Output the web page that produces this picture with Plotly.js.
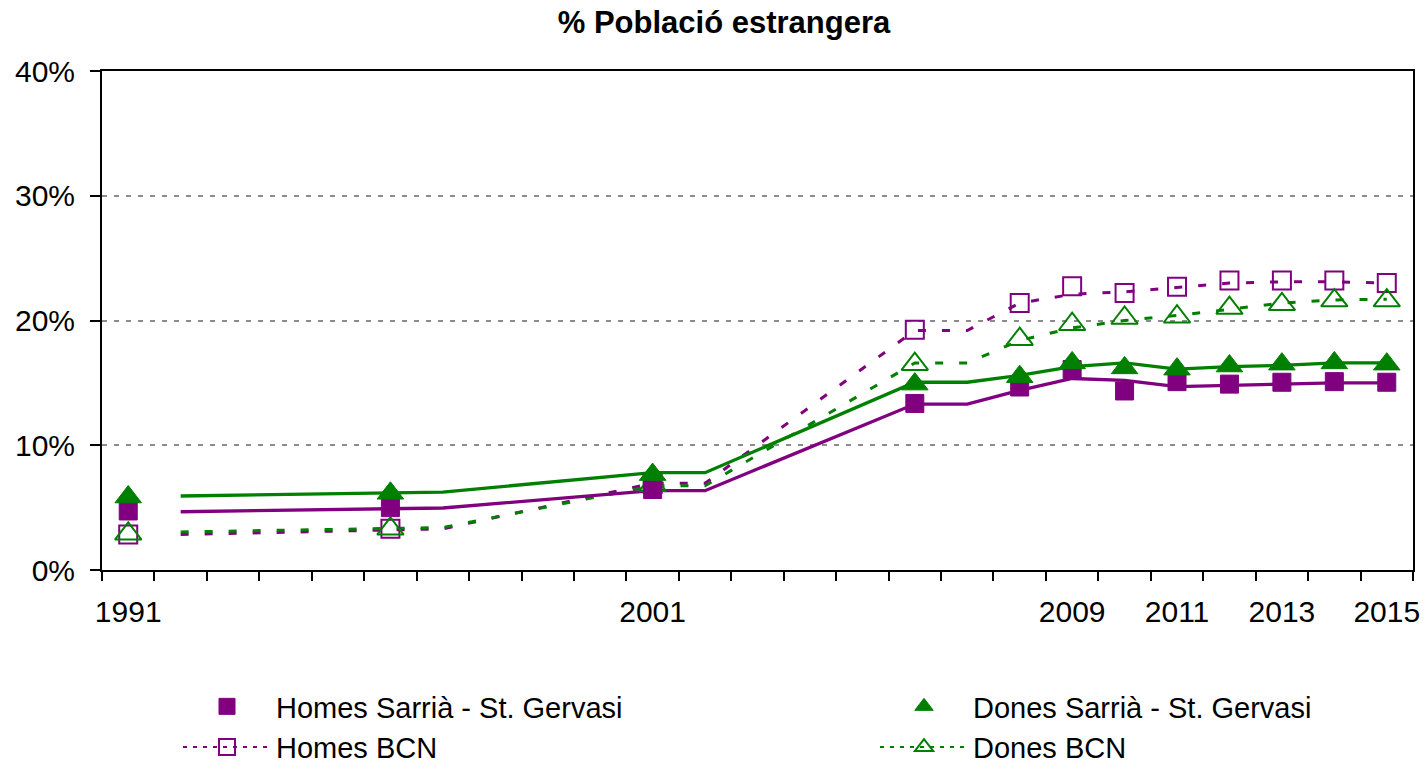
<!DOCTYPE html>
<html>
<head>
<meta charset="utf-8">
<script src="https://cdn.plot.ly/plotly-3.0.1.min.js"></script>
<style>html,body{margin:0;padding:0;background:#fff;}#chart{width:1428px;height:767px;}</style>
</head>
<body>
<div id="chart"></div>
<script>
// ---- data (values in %) ----
const markerYears = [1991, 1996, 2001, 2006, 2008, 2009, 2010, 2011, 2012, 2013, 2014, 2015];
const homesSarria = [4.73, 5.0, 6.45, 13.35, 14.67, 16.07, 14.35, 15.1, 14.9, 15.05, 15.1, 15.05];
const donesSarria = [5.85, 6.15, 7.65, 14.9, 15.5, 16.6, 16.2, 16.1, 16.35, 16.5, 16.6, 16.5];
const homesBCN = [2.85, 3.3, 6.9, 19.25, 21.4, 22.75, 22.2, 22.7, 23.2, 23.2, 23.2, 23.0];
const donesBCN = [2.9, 3.3, 6.8, 16.5, 18.5, 19.7, 20.2, 20.3, 21.0, 21.3, 21.6, 21.6];

const lineYears = [1992, 1997, 2001, 2002, 2006, 2007, 2008, 2009, 2010, 2011, 2012, 2013, 2014, 2015];
const homesSarriaLine = [4.67, 4.97, 6.36, 6.36, 13.3, 13.3, 14.4, 15.35, 15.2, 14.7, 14.8, 14.9, 15.0, 15.0];
const donesSarriaLine = [5.93, 6.25, 7.8, 7.8, 15.05, 15.05, 15.6, 16.3, 16.6, 16.1, 16.3, 16.4, 16.6, 16.6];
const homesBCNLine = [2.85, 3.3, 6.95, 6.95, 19.2, 19.2, 21.4, 22.1, 22.3, 22.65, 23.0, 23.1, 23.1, 23.0];
const donesBCNLine = [3.05, 3.4, 6.75, 6.75, 16.6, 16.6, 18.4, 19.4, 20.0, 20.4, 20.9, 21.4, 21.65, 21.7];

const tickYears = [1991, 2001, 2009, 2011, 2013, 2015];
const yTickVals = [0, 10, 20, 30, 40];
const yTickText = ['0%', '10%', '20%', '30%', '40%'];
const firstYear = 1991, lastYear = 2015;

const names = ['Homes Sarrià - St. Gervasi', 'Dones Sarrià - St. Gervasi', 'Homes BCN', 'Dones BCN'];
const titleText = '% Població estrangera';

// ---- styling ----
const PURPLE = '#800080', GREEN = '#008000';
const FONT = 'Liberation Sans, Arial, Helvetica, sans-serif';
const boundaries = [];
for (let y = firstYear - 0.5; y <= lastYear + 0.5; y += 1) boundaries.push(y);

const traces = [
  {x: lineYears, y: homesBCNLine, mode: 'lines', line: {color: PURPLE, width: 3, dash: '8px,16px'}, showlegend: false, hoverinfo: 'skip'},
  {x: lineYears, y: donesBCNLine, mode: 'lines', line: {color: GREEN, width: 3, dash: '8px,16px'}, showlegend: false, hoverinfo: 'skip'},
  {x: lineYears, y: homesSarriaLine, mode: 'lines', line: {color: PURPLE, width: 3.3}, showlegend: false, hoverinfo: 'skip'},
  {x: lineYears, y: donesSarriaLine, mode: 'lines', line: {color: GREEN, width: 3.3}, showlegend: false, hoverinfo: 'skip'},
  {x: markerYears, y: homesBCN, mode: 'markers', name: names[2], showlegend: false,
   marker: {symbol: 'square-open', size: 18, color: PURPLE, line: {color: PURPLE, width: 2}}},
  {x: markerYears, y: donesBCN, mode: 'markers', name: names[3], showlegend: false,
   marker: {symbol: 'triangle-up-open', size: 23, color: GREEN, line: {color: GREEN, width: 2}}},
  {x: markerYears, y: homesSarria, mode: 'markers', name: names[0], legend: 'legend', legendrank: 1,
   marker: {symbol: 'square', size: 18, color: PURPLE, line: {color: PURPLE, width: 1}}},
  {x: markerYears, y: donesSarria, mode: 'markers', name: names[1], legend: 'legend2', legendrank: 1,
   marker: {symbol: 'triangle-up', size: 23, color: GREEN, line: {color: GREEN, width: 1}}},
  {x: [null], y: [null], mode: 'lines+markers', name: names[2], legend: 'legend', legendrank: 2,
   line: {color: PURPLE, width: 2, dash: '4px,6px'},
   marker: {symbol: 'square-open', size: 16, color: PURPLE, line: {color: PURPLE, width: 2}}},
  {x: [null], y: [null], mode: 'lines+markers', name: names[3], legend: 'legend2', legendrank: 2,
   line: {color: GREEN, width: 2, dash: '4px,6px'},
   marker: {symbol: 'triangle-up-open', size: 16, color: GREEN, line: {color: GREEN, width: 2}}}
];

const legendBase = {
  orientation: 'v', xref: 'container', yref: 'container', xanchor: 'left', yanchor: 'top',
  font: {family: FONT, size: 29, color: '#000'}, bgcolor: 'rgba(0,0,0,0)',
  itemwidth: 88, tracegroupgap: 0, itemclick: false, itemdoubleclick: false
};

const layout = {
  width: 1428, height: 767,
  margin: {l: 102, r: 15, t: 71, b: 197, autoexpand: false},
  paper_bgcolor: '#fff', plot_bgcolor: '#fff',
  font: {family: FONT, color: '#000'},
  title: {text: '<b>' + titleText + '</b>', font: {family: FONT, size: 31, color: '#000'},
          xref: 'container', x: 724 / 1428, xanchor: 'center',
          yref: 'container', y: 1 - 22 / 767, yanchor: 'middle'},
  showlegend: true,
  legend: Object.assign({}, legendBase, {x: 178 / 1428, y: 1 - 681 / 767}),
  legend2: Object.assign({}, legendBase, {x: 875 / 1428, y: 1 - 681 / 767}),
  xaxis: {
    range: [firstYear - 0.5, lastYear + 0.5], type: 'linear', automargin: false,
    tickmode: 'array', tickvals: tickYears, ticktext: tickYears.map(String), tickangle: 0,
    ticks: 'outside', ticklen: 14, tickcolor: 'rgba(0,0,0,0)',
    minor: {tickmode: 'array', tickvals: boundaries, ticks: 'outside', ticklen: 9, tickwidth: 2, tickcolor: '#000', showgrid: false},
    tickfont: {family: FONT, size: 30, color: '#000'},
    showline: true, linecolor: '#000', linewidth: 2, mirror: true,
    showgrid: false, zeroline: false, fixedrange: true
  },
  yaxis: {
    range: [0, 40], tickmode: 'array', tickvals: yTickVals, ticktext: yTickText, automargin: false,
    ticks: 'outside', ticklen: 10, tickwidth: 2, tickcolor: '#000', ticklabelstandoff: 9,
    tickfont: {family: FONT, size: 30, color: '#000'},
    showline: true, linecolor: '#000', linewidth: 2, mirror: true,
    showgrid: true, gridcolor: '#8c8c8c', gridwidth: 2, griddash: '5px,7px',
    zeroline: false, fixedrange: true
  }
};

Plotly.newPlot('chart', traces, layout, {displayModeBar: false, staticPlot: true});
</script>
</body>
</html>
